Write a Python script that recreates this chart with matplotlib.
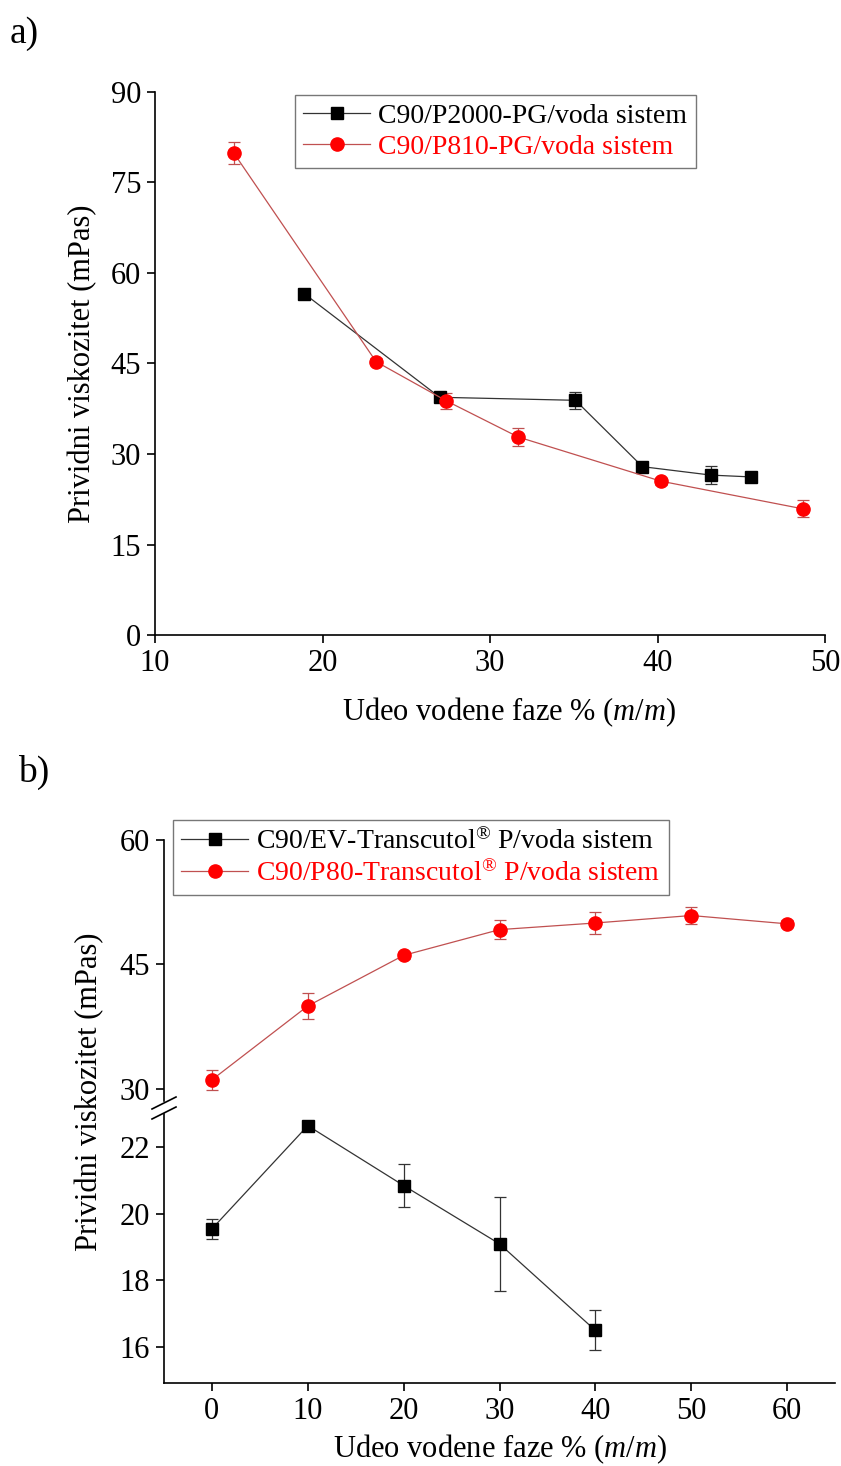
import numpy as np
import matplotlib
matplotlib.use('Agg')
from matplotlib import pyplot as plt
from matplotlib.lines import Line2D

plt.rcParams['font.family'] = ['Liberation Serif', 'DejaVu Serif']
plt.rcParams['mathtext.fontset'] = 'custom'
plt.rcParams['mathtext.rm'] = 'Liberation Serif'
plt.rcParams['mathtext.it'] = 'Liberation Serif:italic'

# %% data, panel a
a_black_x = [18.9, 27.0, 35.1, 39.1, 43.2, 45.6]
a_black_y = [56.6, 39.4, 38.9, 27.9, 26.5, 26.2]
a_black_err = [0.6, 0.6, 1.4, 0.6, 1.5, 0.5]

a_red_x = [14.7, 23.2, 27.4, 31.7, 40.2, 48.7]
a_red_y = [79.9, 45.3, 38.8, 32.8, 25.5, 20.9]
a_red_err = [1.8, 0.6, 1.3, 1.5, 0.6, 1.4]

a_labels = ['C90/P2000-PG/voda sistem', 'C90/P810-PG/voda sistem']

# %% data, panel b
b_x = [0, 10, 20, 30, 40, 50, 60]
b_red_y = [31.1, 40.0, 46.1, 49.2, 50.0, 50.9, 49.9]
b_red_err = [1.2, 1.6, 0.4, 1.1, 1.3, 1.0, 0.4]

b_black_x = [0, 10, 20, 30, 40]
b_black_y = [19.55, 22.65, 20.85, 19.1, 16.5]
b_black_err = [0.3, 0.1, 0.65, 1.42, 0.6]

b_labels = ['C90/EV-Transcutol$^{®}$ P/voda sistem',
            'C90/P80-Transcutol$^{®}$ P/voda sistem']

xlabel = 'Udeo vodene faze % ($m/m$)'
ylabel = 'Prividni viskozitet (mPas)'

# %% style
W, H = 841, 1466
fs = 22
lfs = 20
red = '#ff0000'
red_line = '#c05050'
lw = 0.9


def px(x0, y0, x1, y1):
    # pixel box -> figure rect
    return [x0 / W, 1 - y1 / H, (x1 - x0) / W, (y1 - y0) / H]


def style(ax):
    for s in ['top', 'right']:
        ax.spines[s].set_visible(False)
    for s in ['left', 'bottom']:
        ax.spines[s].set_linewidth(1.2)
    ax.tick_params(direction='out', length=6, width=1.2, labelsize=fs, pad=4)


def series(ax, x, y, err, marker, mc, lc, ms):
    ax.errorbar(x, y, yerr=err, fmt='none', ecolor=lc, elinewidth=lw,
                capsize=4, capthick=lw, zorder=2)
    ax.plot(x, y, '-', color=lc, lw=lw, marker=marker, ms=ms,
            mfc=mc, mec=mc, zorder=3)


def legend(ax, labels, anchor):
    handles = [Line2D([], [], color='#333333', lw=lw, marker='s', ms=8.5, mfc='k', mec='k'),
               Line2D([], [], color=red_line, lw=lw, marker='o', ms=9.5, mfc=red, mec=red)]
    leg = ax.legend(handles, labels, loc='upper left', bbox_to_anchor=anchor,
                    borderaxespad=0, fontsize=lfs, fancybox=False, edgecolor='#777777',
                    handlelength=2.4, handletextpad=0.3, labelspacing=0.2,
                    borderpad=0.3, framealpha=1)
    leg.get_frame().set_linewidth(1.0)
    leg.get_texts()[1].set_color(red)


fig = plt.figure(figsize=(W / 100, H / 100), dpi=100)

# %% panel a
ax = fig.add_axes(px(155, 92, 825, 635))
style(ax)
series(ax, a_black_x, a_black_y, a_black_err, 's', 'k', '#333333', 8.5)
series(ax, a_red_x, a_red_y, a_red_err, 'o', red, red_line, 9.5)
ax.set_xlim(10, 50)
ax.set_ylim(0, 90)
ax.set_xticks(np.arange(10, 51, 10))
ax.set_yticks(np.arange(0, 91, 15))
ax.set_xlabel(xlabel, fontsize=fs)
ax.xaxis.set_label_coords(0.528, -0.112)
ax.set_ylabel(ylabel, fontsize=fs, labelpad=10)
legend(ax, a_labels, (0.209, 0.994))
fig.text(10 / W, 1 - 34 / H, 'a)', fontsize=27, va='center')

# %% panel b
ax_up = fig.add_axes(px(164, 840, 835, 1101))
ax_lo = fig.add_axes(px(164, 1114, 835, 1383))
for a_ in (ax_up, ax_lo):
    style(a_)
    a_.set_xlim(-5, 65)
ax_up.spines['bottom'].set_visible(False)
ax_up.tick_params(axis='x', bottom=False, labelbottom=False)
ax_up.patch.set_alpha(0)
ax_lo.patch.set_alpha(0)

series(ax_up, b_x, b_red_y, b_red_err, 'o', red, red_line, 9.5)
series(ax_lo, b_black_x, b_black_y, b_black_err, 's', 'k', '#333333', 8.5)
ax_up.set_ylim(28.55, 60)
ax_up.set_yticks([30, 45, 60])
ax_lo.set_ylim(14.92, 23.0)
ax_lo.set_yticks([16, 18, 20, 22])
ax_lo.set_xticks(np.arange(0, 61, 10))
fig.text(500 / W, 1 - 1449 / H, xlabel, fontsize=fs, ha='center', va='center')
fig.text(90 / W, 1 - 1092 / H, ylabel, fontsize=fs, rotation=90,
         ha='center', va='center')

# break marks on the left spine
for yb in (1103, 1113):
    fig.add_artist(Line2D([152 / W, 176 / W], [1 - (yb + 6) / H, 1 - (yb - 6) / H],
                          color='k', lw=1.2, transform=fig.transFigure))

legend(ax_up, b_labels, (0.0134, 1.077))
fig.text(18 / W, 1 - 772 / H, 'b)', fontsize=27, va='center')

fig.savefig('out.png', dpi=100)
plt.close(fig)
